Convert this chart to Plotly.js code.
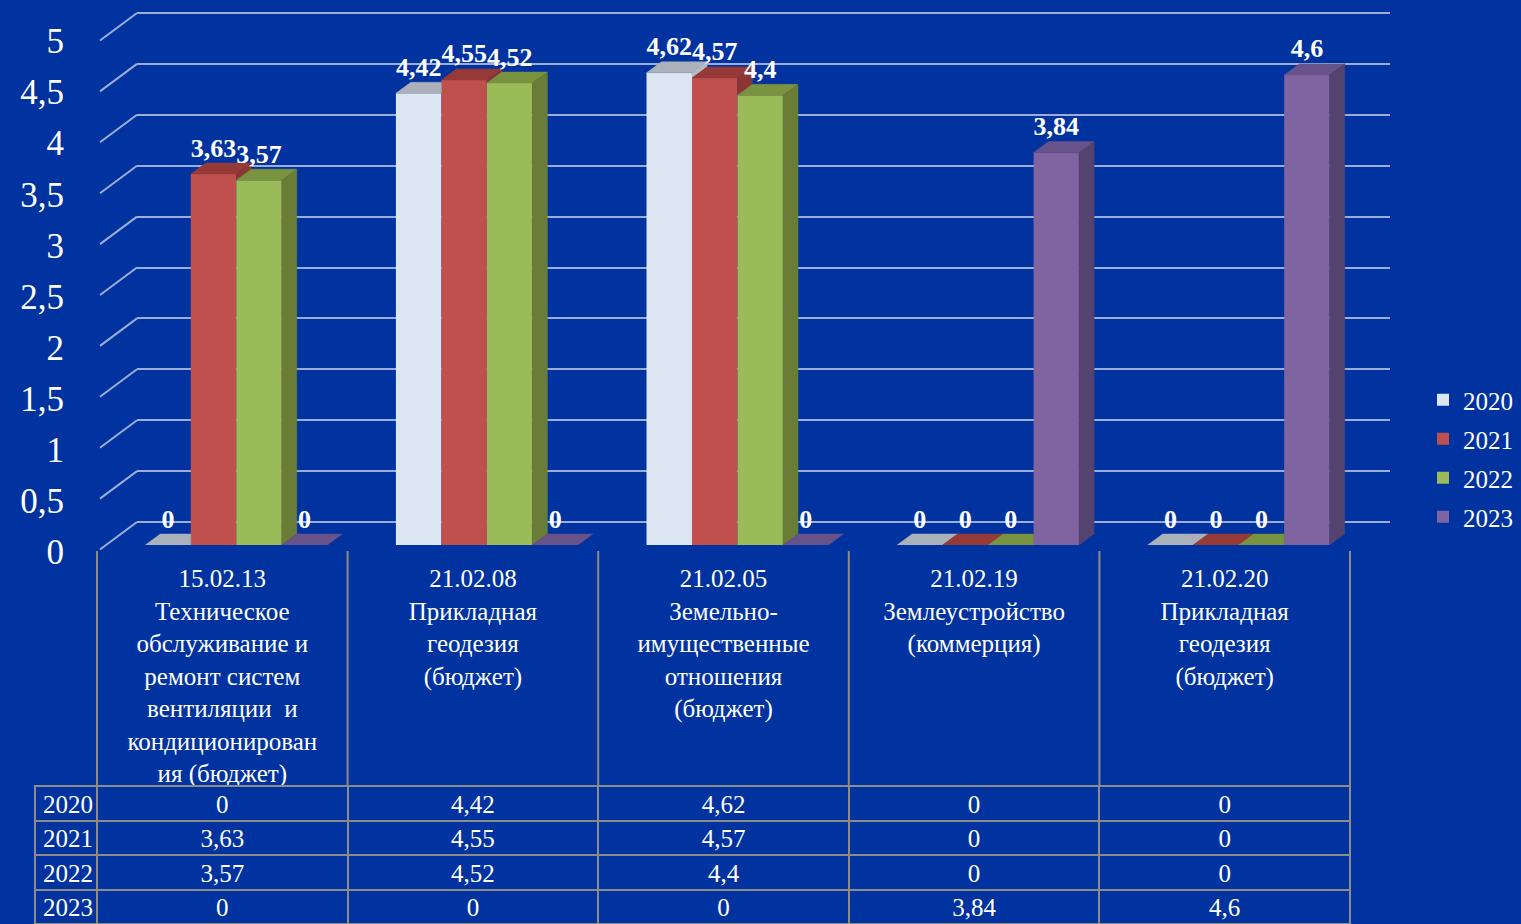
<!DOCTYPE html>
<html><head><meta charset="utf-8">
<script src="https://cdn.plot.ly/plotly-3.0.1.min.js"></script>
<style>html,body{margin:0;padding:0;background:#0033A0;overflow:hidden}</style>
</head><body><div id="chart" style="width:1521px;height:924px"></div>
<script>
// ---- data ----
const categories = [
  "15.02.13<br>Техническое<br>обслуживание и<br>ремонт систем<br>вентиляции  и<br>кондиционирован<br>ия (бюджет)",
  "21.02.08<br>Прикладная<br>геодезия<br>(бюджет)",
  "21.02.05<br>Земельно-<br>имущественные<br>отношения<br>(бюджет)",
  "21.02.19<br>Землеустройство<br>(коммерция)",
  "21.02.20<br>Прикладная<br>геодезия<br>(бюджет)"
];
const seriesNames = ["2020", "2021", "2022", "2023"];
const values2020 = [0, 4.42, 4.62, 0, 0];
const values2021 = [3.63, 4.55, 4.57, 0, 0];
const values2022 = [3.57, 4.52, 4.4, 0, 0];
const values2023 = [0, 0, 0, 3.84, 4.6];
const yTicks = [0, 0.5, 1, 1.5, 2, 2.5, 3, 3.5, 4, 4.5, 5];

// ---- layout geometry / styles ----
const W = 1521, H = 924;
const plotL = 97, plotR = 1350, baseY = 545;
const pxX = (plotR - plotL) / categories.length;
const pxY = 102.2;
const backPx = 101.8, backZero = 522, gridBottom = 560;
const labelZero = 552, labelBottom = 562;
const barW = 45.5 / pxX;
const groupStart = -77 / pxX;
const dx = 15 / pxX, dy = 11 / pxY;
const BG = '#0033A0';
const GRID = '#9DADD8';
const BORDER = '#8E8C86';
const SERIF = '"Liberation Serif", "Times New Roman", serif';
const frontColors = ['#DCE6F2', '#C0504D', '#9BBB59', '#8064A2'];
const topColors   = ['#AAB1BA', '#963A38', '#7A9340', '#68528A'];
const sideColors  = ['#B4BBC4', '#8C3533', '#6A7D37', '#54436F'];

const series = [values2020, values2021, values2022, values2023];
const fmt = v => String(v).replace('.', ',');
const idx = categories.map((_, i) => i);

const traces = [];
// empty traces so the helper subplots exist
traces.push({type: 'scatter', x: [], y: [], xaxis: 'x', yaxis: 'y', showlegend: false, hoverinfo: 'skip'});
traces.push({type: 'scatter', x: [], y: [], xaxis: 'x2', yaxis: 'y3', showlegend: false, hoverinfo: 'skip'});

// front faces (bars)
series.forEach((vals, s) => {
  traces.push({
    type: 'bar', name: seriesNames[s], legendgroup: 'g' + s,
    x: idx, y: vals, xaxis: 'x2', yaxis: 'y2',
    offset: groupStart + s * barW, width: barW,
    marker: {color: frontColors[s], line: {width: 0}},
    hoverinfo: 'name+y'
  });
});

// top and side faces (pseudo-3D), computed from the values
series.forEach((vals, s) => {
  const tx = [], ty = [], sx = [], sy = [];
  vals.forEach((v, i) => {
    const x0 = i + groupStart + s * barW, x1 = x0 + barW;
    const next = s < series.length - 1 ? series[s + 1][i] : null;
    const c = next === null ? v : Math.min(Math.max(next, v), v + dy);
    tx.push(x0, x1, x1, x1 + (v + dy - c) * dx / dy, x0 + dx, x0, null);
    ty.push(v, v, c, v + dy, v + dy, v, null);
    const b = next === null ? 0 : Math.max(0, next);
    if (v > b) {
      sx.push(x1, x1 + dx, x1 + dx, x1, x1, null);
      sy.push(b, b + dy, v + dy, v, b, null);
    }
  });
  traces.push({type: 'scatter', mode: 'lines', x: tx, y: ty, xaxis: 'x2', yaxis: 'y2',
    fill: 'toself', fillcolor: topColors[s], line: {width: 0.5, color: topColors[s]},
    showlegend: false, hoverinfo: 'skip'});
  if (sx.length) {
    traces.push({type: 'scatter', mode: 'lines', x: sx, y: sy, xaxis: 'x2', yaxis: 'y2',
      fill: 'toself', fillcolor: sideColors[s], line: {width: 0.5, color: sideColors[s]},
      showlegend: false, hoverinfo: 'skip'});
  }
});

// data labels
series.forEach((vals, s) => {
  traces.push({type: 'scatter', mode: 'text', xaxis: 'x2', yaxis: 'y2',
    x: vals.map((v, i) => i + groupStart + s * barW + barW / 2),
    y: vals.map(v => v + dy),
    text: vals.map(fmt), textposition: 'top center',
    textfont: {family: SERIF, size: 26, color: '#FFFFFF', weight: 'bold'},
    cliponaxis: false, showlegend: false, hoverinfo: 'skip'});
});

// data table under the chart (first year row carried by the table header)
const tableColumns = [seriesNames].concat(categories.map((_, i) => series.map(vals => fmt(vals[i]))));
const rowH = 34.5;
const cellStyle = {
  align: ['left'].concat(categories.map(() => 'center')),
  font: {family: SERIF, size: 25, color: '#FFFFFF'},
  fill: {color: BG},
  line: {color: BORDER, width: 2},
  height: rowH
};
traces.push(Object.assign({
  type: 'table',
  domain: {x: [35 / W, plotR / W], y: [0, (H - 786) / H]},
  columnwidth: [62].concat(categories.map(() => pxX)),
  header: Object.assign({values: tableColumns.map(col => [col[0]])}, cellStyle),
  cells: Object.assign({values: tableColumns.map(col => col.slice(1))}, cellStyle)
}));

// diagonal tick lines (front plane -> back wall) and label-area separators
const shapes = [];
yTicks.forEach(v => {
  shapes.push({type: 'line', xref: 'paper', yref: 'y', layer: 'below',
    x0: 100 / W, x1: 137 / W, y0: v - 0.27, y1: v, line: {color: GRID, width: 2}});
});
for (let i = 0; i <= categories.length; i++) {
  shapes.push({type: 'line', xref: 'paper', yref: 'paper',
    x0: (plotL + i * pxX) / W, x1: (plotL + i * pxX) / W,
    y0: (H - 787) / H, y1: (H - 551) / H, line: {color: BORDER, width: 2}});
}

const layout = {
  width: W, height: H,
  margin: {l: 0, r: 0, t: 0, b: 0, autoexpand: false},
  paper_bgcolor: BG, plot_bgcolor: 'rgba(0,0,0,0)',
  barmode: 'overlay',
  showlegend: true,
  legend: {x: 1423 / W, xanchor: 'left', y: 1 - 377 / H, yanchor: 'top',
    font: {family: SERIF, size: 25, color: '#FFFFFF'}, bgcolor: 'rgba(0,0,0,0)',
    tracegroupgap: 3.5, traceorder: 'grouped'},
  // back-wall gridlines
  xaxis: {domain: [137 / W, 1390 / W], range: [0, 1], anchor: 'y',
    showgrid: false, zeroline: false, showline: false, showticklabels: false, ticks: ''},
  yaxis: {domain: [(H - gridBottom) / H, 1], anchor: 'x',
    range: [-(gridBottom - backZero) / backPx, backZero / backPx],
    tickvals: yTicks, showticklabels: false, ticks: '',
    showgrid: true, gridcolor: GRID, gridwidth: 2, zeroline: false, showline: false},
  // bars
  xaxis2: {domain: [plotL / W, plotR / W], range: [-0.5, categories.length - 0.5], anchor: 'y2',
    tickvals: idx, ticktext: categories, ticks: '', ticklabelstandoff: 16,
    tickfont: {family: SERIF, size: 25, color: '#FFFFFF'},
    showgrid: false, zeroline: false, showline: false},
  yaxis2: {domain: [(H - baseY) / H, 1], anchor: 'x2', range: [0, baseY / pxY],
    showgrid: false, zeroline: false, showline: false, showticklabels: false, ticks: ''},
  // front value labels
  yaxis3: {domain: [(H - labelBottom) / H, 1], anchor: 'x2', side: 'left',
    range: [-(labelBottom - labelZero) / pxY, labelZero / pxY],
    tickvals: yTicks, ticktext: yTicks.map(fmt), ticks: '', ticklabelstandoff: 32,
    tickfont: {family: SERIF, size: 35, color: '#FFFFFF'},
    showgrid: false, zeroline: false, showline: false},
  shapes: shapes
};

Plotly.newPlot('chart', traces, layout, {displayModeBar: false, staticPlot: true});
</script>
</body></html>
